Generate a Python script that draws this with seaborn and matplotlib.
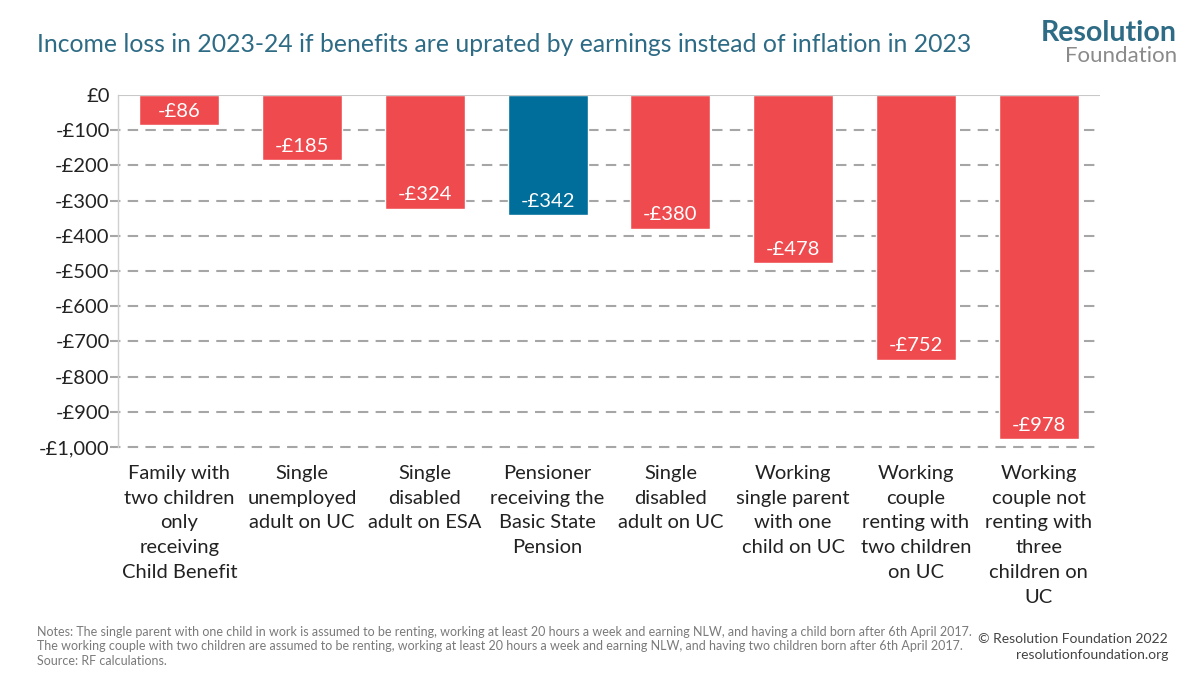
import matplotlib
matplotlib.use("Agg")
import matplotlib.pyplot as plt
import seaborn as sns
import pandas as pd

categories = [
    "Family with\ntwo children\nonly\nreceiving\nChild Benefit",
    "Single\nunemployed\nadult on UC",
    "Single\ndisabled\nadult on ESA",
    "Pensioner\nreceiving the\nBasic State\nPension",
    "Single\ndisabled\nadult on UC",
    "Working\nsingle parent\nwith one\nchild on UC",
    "Working\ncouple\nrenting with\ntwo children\non UC",
    "Working\ncouple not\nrenting with\nthree\nchildren on\nUC",
]
values = [-86, -185, -324, -342, -380, -478, -752, -978]
bar_labels = ["-£86", "-£185", "-£324", "-£342", "-£380", "-£478", "-£752", "-£978"]
y_ticks = [0, -100, -200, -300, -400, -500, -600, -700, -800, -900, -1000]
y_tick_labels = ["£0", "-£100", "-£200", "-£300", "-£400", "-£500", "-£600",
                 "-£700", "-£800", "-£900", "-£1,000"]

RED = "#EF4B4F"
BLUE = "#006E9A"
colors = [RED, RED, RED, BLUE, RED, RED, RED, RED]

sns.set_theme(style="white")
plt.rcParams["font.family"] = ["Lato", "DejaVu Sans"]

df = pd.DataFrame({"cat": categories, "val": values})

fig = plt.figure(figsize=(12, 6.75), dpi=100)
ax = fig.add_axes([118 / 1200, 1 - 447 / 675, (1100 - 118) / 1200, (447 - 95) / 675])

sns.barplot(data=df, x="cat", y="val", hue="cat", palette=colors, legend=False,
            width=0.65, saturation=1, ax=ax, zorder=3)

ax.set_xlim(-0.5, 7.5)
ax.set_ylim(-1000, 0)
ax.set_yticks(y_ticks)
ax.set_yticklabels(y_tick_labels, fontsize=14.5, color="#222222")
ax.set_xticks(range(len(categories)))
ax.set_xticklabels(categories, fontsize=14.5, color="#222222", linespacing=1.55)
ax.set_xlabel("")
ax.set_ylabel("")

for y in y_ticks[1:]:
    ax.axhline(y, color="#A6A6A6", lw=1.5, ls=(0, (5, 3.5)), zorder=1,
               xmin=-0.008, clip_on=False)
ax.axhline(0, color="#C8C8C8", lw=1.5, zorder=4)

for s in ["top", "right", "bottom"]:
    ax.spines[s].set_visible(False)
ax.spines["left"].set_color("#D0D0D0")
ax.spines["left"].set_linewidth(1)
ax.tick_params(axis="both", length=0, pad=6)
ax.tick_params(axis="x", pad=13)

for i, (v, lab) in enumerate(zip(values, bar_labels)):
    ax.annotate(lab, xy=(i, v), xytext=(0, 4), textcoords="offset points",
                ha="center", va="bottom", color="white", fontsize=14.5)

fig.text(37 / 1200, 1 - 45 / 675, "Income loss in 2023-24 if benefits are uprated by earnings instead of inflation in 2023",
         fontsize=17.8, color="#2E6B85", va="center", ha="left")
fig.text(1177 / 1200, 1 - 33 / 675, "Resolution", fontsize=20.5, fontweight="bold",
         color="#2E6B85", ha="right", va="center")
fig.text(1177 / 1200, 1 - 56 / 675, "Foundation", fontsize=16,
         color="#8A8A8A", ha="right", va="center")

notes = ("Notes: The single parent with one child in work is assumed to be renting, working at least 20 hours a week and earning NLW, and having a child born after 6th April 2017.\n"
         "The working couple with two children are assumed to be renting, working at least 20 hours a week and earning NLW, and having two children born after 6th April 2017.\n"
         "Source: RF calculations.")
fig.text(37 / 1200, 1 - 626 / 675, notes, fontsize=9.0, color="#7A7A7A", ha="left", va="top",
         linespacing=1.25)
fig.text(1168 / 1200, 1 - 647 / 675, "© Resolution Foundation 2022\nresolutionfoundation.org",
         fontsize=10, color="#444444", ha="right", va="center", multialignment="right",
         linespacing=1.4)

fig.savefig("out.png", dpi=100)
